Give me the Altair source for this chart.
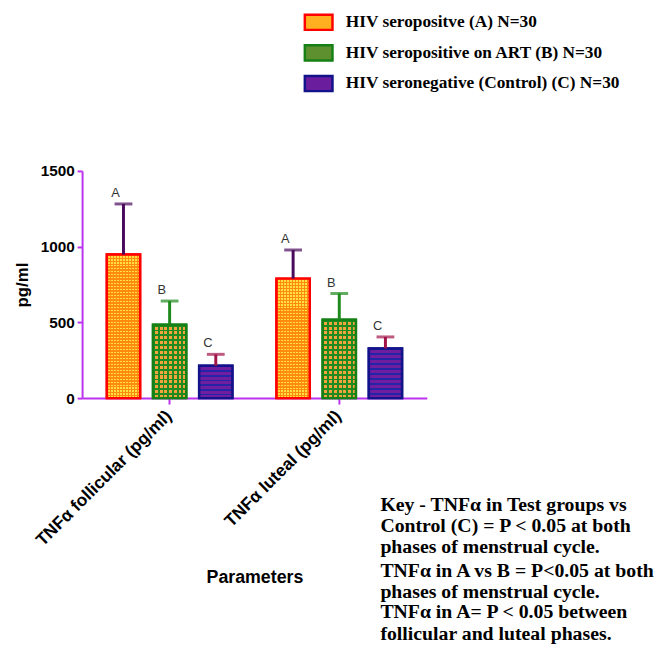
import altair as alt
import pandas as pd

params = ["TNFα follicular (pg/ml)", "TNFα luteal (pg/ml)"]
groups = ["HIV seropositve (A) N=30", "HIV seropositive on ART (B) N=30",
          "HIV seronegative (Control) (C) N=30"]
letters = ["A", "B", "C"]
mean_follicular = [948, 485, 213]
upper_follicular = [1282, 641, 289]
mean_luteal = [789, 517, 328]
upper_luteal = [978, 691, 404]

key_lines_1 = ["Key - TNFα in Test groups vs", "Control (C) = P < 0.05 at both",
               "phases of menstrual cycle."]
key_lines_2 = ["TNFα in A vs B  = P<0.05 at both", "phases of menstrual cycle."]
key_lines_3 = ["TNFα in A= P < 0.05 between", "follicular and luteal phases."]

rows = []
for p, means, ups in [(params[0], mean_follicular, upper_follicular),
                      (params[1], mean_luteal, upper_luteal)]:
    for g, l, m, u in zip(groups, letters, means, ups):
        rows.append({"param": p, "group": g, "letter": l, "mean": m, "upper": u})
df = pd.DataFrame(rows)

W, H = 349, 230
YMAX = 1500
BAR_W = 34
AXIS_COLOR = "#BB33EE"
SANS = "Liberation Sans"
SERIF = "Liberation Serif"

legend_fill = ["#FFB020", "#5E9030", "#6A1E9E"]
stroke_cols = ["#FF0000", "#158015", "#12128A"]
err_cols = ["#4A0A5C", "#1E8A1E", "#A0144A"]

# pattern specs: (square colour, line colour, cell px, line fraction, kind)
patterns = {
    "A": ("#FFE040", "#FF8A10", 3.0, 0.45, "grid"),
    "B": ("#F3A43C", "#1F8A1F", 5.0, 0.38, "grid"),
    "C": ("#6E1E9E", "#2424A8", 5.0, 0.35, "hstripe"),
}


def stops(line, sq, n, frac):
    out = []
    for i in range(n):
        s, m, e = i / n, (i + frac) / n, (i + 1) / n
        out += [alt.GradientStop(offset=s, color=line),
                alt.GradientStop(offset=m, color=line),
                alt.GradientStop(offset=m, color=sq),
                alt.GradientStop(offset=e, color=sq)]
    return out


YSCALE = alt.Scale(domain=[0, YMAX], nice=False, zero=True)

X = alt.X("param:N", sort=params,
          scale=alt.Scale(domain=params, paddingInner=0.26, paddingOuter=0.146),
          axis=alt.Axis(title="Parameters", labelAngle=-45, labelFont=SANS,
                        labelFontWeight="bold", labelFontSize=17.5, labelColor="black",
                        labelPadding=3, labelOffset=-7, labelLimit=400,
                        titleFont=SANS, titleFontWeight="bold",
                        titleFontSize=18, titleColor="black", titlePadding=20,
                        domainColor=AXIS_COLOR, domainWidth=2, tickColor=AXIS_COLOR,
                        tickWidth=2, tickSize=6))
XO = alt.XOffset("group:N", sort=groups,
                 scale=alt.Scale(domain=groups, paddingInner=0.28, paddingOuter=0))
Y = alt.Y("mean:Q", scale=YSCALE,
          axis=alt.Axis(title="pg/ml", values=[0, 500, 1000, 1500], format="d",
                        grid=False,
                        labelFont=SANS, labelFontWeight="bold", labelFontSize=15.5,
                        labelColor="black", labelPadding=3, titleFont=SANS,
                        titleFontWeight="bold", titleFontSize=17, titleColor="black",
                        titlePadding=9, domainColor=AXIS_COLOR, domainWidth=2,
                        tickColor=AXIS_COLOR, tickWidth=2, tickSize=5))

base = alt.Chart(df)

bars = base.mark_bar(strokeWidth=2.5).encode(
    x=X, xOffset=XO, y=Y,
    fill=alt.Fill("group:N", sort=groups,
                  scale=alt.Scale(domain=groups, range=legend_fill),
                  legend=alt.Legend(title=None, orient="none", legendX=224,
                                    legendY=-166, symbolType="M-1,-0.55H1V0.55H-1Z",
                                    symbolSize=784, symbolStrokeWidth=2.5,
                                    labelFont=SERIF, labelFontWeight="bold",
                                    labelFontSize=17.5, labelColor="black",
                                    labelOffset=12, rowPadding=2, padding=0,
                                    labelLimit=400)),
    stroke=alt.Stroke("group:N", sort=groups,
                      scale=alt.Scale(domain=groups, range=stroke_cols)),
)

layers = [bars]
for _, r in df.iterrows():
    sq, line, cell, frac, kind = patterns[r["letter"]]
    gi = letters.index(r["letter"])
    hpx = r["mean"] / YMAX * H
    nh = max(1, round(hpx / cell))
    sel = base.transform_filter(
        (alt.datum.param == r["param"]) & (alt.datum.group == r["group"]))
    enc = dict(x=alt.X("param:N", sort=params), xOffset=alt.XOffset("group:N", sort=groups),
               y=alt.Y("mean:Q", scale=YSCALE))
    if kind == "grid":
        nv = max(1, round(BAR_W / cell))
        g_v = alt.Gradient(gradient="linear", stops=stops(line, sq, nv, frac),
                           x1=0, x2=1, y1=0, y2=0)
        g_h = alt.Gradient(gradient="linear",
                           stops=stops(line, "rgba(0,0,0,0)", nh, frac),
                           x1=0, x2=0, y1=0, y2=1)
        layers.append(sel.mark_bar(fill=g_v, strokeWidth=0).encode(**enc))
        layers.append(sel.mark_bar(fill=g_h, stroke=stroke_cols[gi],
                                   strokeWidth=2.5).encode(**enc))
    else:
        g_h = alt.Gradient(gradient="linear", stops=stops(line, sq, nh, frac),
                           x1=0, x2=0, y1=0, y2=1)
        layers.append(sel.mark_bar(fill=g_h, stroke=stroke_cols[gi],
                                   strokeWidth=2.5).encode(**enc))

err_color = alt.Color("letter:N", scale=alt.Scale(domain=letters, range=err_cols),
                      legend=None)
rules = base.mark_rule(strokeWidth=3).encode(
    x=alt.X("param:N", sort=params), xOffset=alt.XOffset("group:N", sort=groups),
    y=alt.Y("mean:Q", scale=YSCALE), y2="upper:Q", color=err_color)
caps = base.mark_tick(thickness=3, size=18).encode(
    x=alt.X("param:N", sort=params), xOffset=alt.XOffset("group:N", sort=groups),
    y=alt.Y("upper:Q", scale=YSCALE), color=err_color)
labels = base.mark_text(dx=-8, dy=-11, font=SANS, fontSize=13, color="#333333",
                        baseline="middle").encode(
    x=alt.X("param:N", sort=params), xOffset=alt.XOffset("group:N", sort=groups),
    y=alt.Y("upper:Q", scale=YSCALE), text="letter:N")
layers += [rules, caps, labels]

key_pos = [(key_lines_1, 344), (key_lines_2, 411), (key_lines_3, 453)]
for lines, ybase in key_pos:
    layers.append(alt.Chart(pd.DataFrame({"k": [0]})).mark_text(
        text=lines, align="left", baseline="alphabetic", font=SERIF,
        fontWeight="bold", fontSize=20, lineHeight=21.5, color="black").encode(
        x=alt.value(302), y=alt.value(ybase)))

chart = alt.layer(*layers).properties(
    width=W, height=H,
    padding={"left": 75, "top": 161, "right": 230, "bottom": 246},
    autosize=alt.AutoSizeParams(type="none"),
).configure_view(stroke=None).configure_axis(labelOverlap=False)

chart.save("out.html", embed_options={"renderer": "svg", "actions": False})
